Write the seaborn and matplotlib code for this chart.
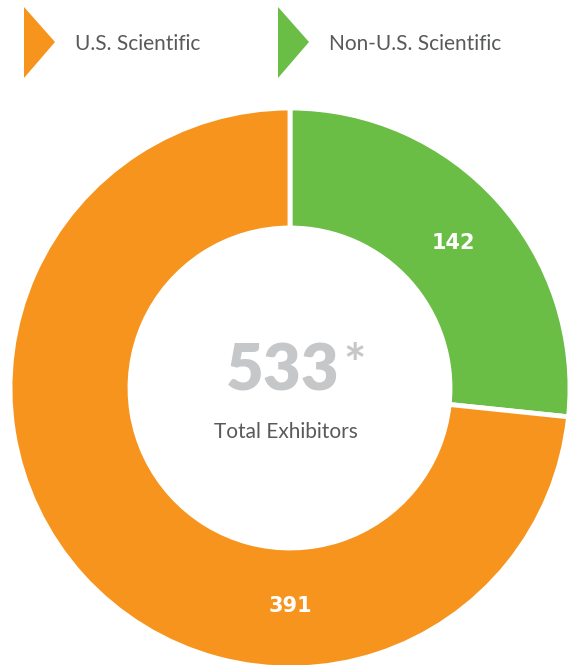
import numpy as np
import matplotlib
matplotlib.use("Agg")
import matplotlib.pyplot as plt
import seaborn as sns
from matplotlib.patches import Polygon

sns.set_theme(style="white")
plt.rcParams['font.family'] = ['Lato', 'DejaVu Sans']

categories = ["Non-U.S. Scientific", "U.S. Scientific"]
values = [142, 391]
colors = ["#6ABD45", "#F7941D"]
legend_order = ["U.S. Scientific", "Non-U.S. Scientific"]
total_label = "533"
subtitle = "Total Exhibitors"

W, H = 575, 665
fig = plt.figure(figsize=(W / 100, H / 100), dpi=100)
ax = fig.add_axes([0, 0, 1, 1])

cx, cy, R, r = 290, H - 388, 280, 160
wedges, _ = ax.pie(values, colors=colors, startangle=90, counterclock=False,
                   center=(cx, cy), radius=R,
                   wedgeprops=dict(width=R - r, edgecolor="white", linewidth=3.5))
ax.set_xlim(0, W)
ax.set_ylim(0, H)
ax.set_aspect("equal")
ax.axis("off")

# value labels
rm = (R + r) / 2
ang_green = np.deg2rad(90 - values[0] / sum(values) * 360 / 2)
ax.text(cx + rm * np.cos(ang_green), cy + rm * np.sin(ang_green) - 2, str(values[0]),
        color="white", fontsize=15, fontweight="bold", family="DejaVu Sans",
        ha="center", va="center")
ang_orange = np.deg2rad(-90)
ax.text(cx + rm * np.cos(ang_orange), cy + rm * np.sin(ang_orange) + 2, str(values[1]),
        color="white", fontsize=15, fontweight="bold", family="DejaVu Sans",
        ha="center", va="center")

# center text
ax.text(cx - 7, H - 372, total_label, color="#C6C7C9", fontsize=47, fontweight="heavy",
        ha="center", va="center")
ax.text(cx + 65, H - 367, "*", color="#C6C7C9", fontsize=38, fontweight="bold",
        ha="center", va="center")
ax.text(cx - 4, H - 432, subtitle, color="#58595B", fontsize=15,
        ha="center", va="center")

# legend
cmap = dict(zip(categories, colors))
x0s = [24, 278]
for x0, name in zip(x0s, legend_order):
    tri = Polygon([[x0, H - 7], [x0 + 31, H - 42], [x0, H - 78]], closed=True,
                  facecolor=cmap[name], edgecolor="none")
    ax.add_patch(tri)
    ax.text(x0 + 51, H - 44, name, color="#58595B", fontsize=15,
            ha="left", va="center")

fig.savefig("out.png", dpi=100, facecolor="white")
